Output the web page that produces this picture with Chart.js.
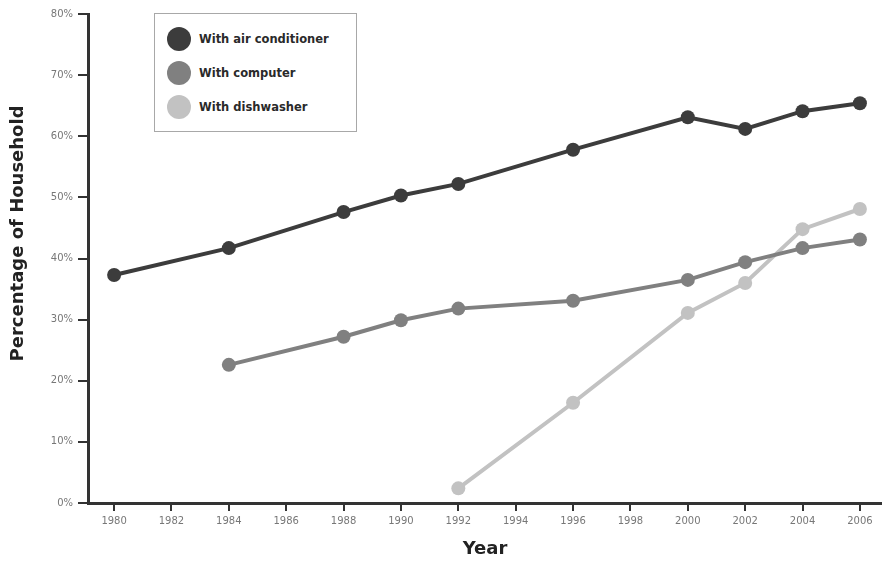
<!DOCTYPE html>
<html>
<head>
<meta charset="utf-8">
<script src="https://cdn.jsdelivr.net/npm/chart.js@4"></script>
<style>
  html, body { margin: 0; padding: 0; background: #fff; }
  #wrap { position: relative; width: 882px; height: 564px; }
  #legend { position: absolute; left: 154px; top: 13px; width: 203px; height: 119px;
    border: 1.5px solid #a8a8a8; background: #fff; box-sizing: border-box;
    font-family: "DejaVu Sans", sans-serif; font-weight: bold; font-size: 11.5px; color: #2a2a2a; }
  .row { position: absolute; left: 12px; display: flex; align-items: center; }
  .dot { width: 24px; height: 24px; border-radius: 50%; margin-right: 8px; }
</style>
</head>
<body>
<div id="wrap">
  <canvas id="c" width="882" height="564"></canvas>
  <div id="legend"></div>
</div>
<script>
const yearTicks = [1980,1982,1984,1986,1988,1990,1992,1994,1996,1998,2000,2002,2004,2006];
const yTicks = [0,10,20,30,40,50,60,70,80];
const seriesNames = ["With air conditioner", "With computer", "With dishwasher"];
const seriesColors = ["#3c3c3c", "#808080", "#c2c2c2"];
const airYears = [1980,1984,1988,1990,1992,1996,2000,2002,2004,2006];
const airValues = [37.3,41.7,47.6,50.3,52.2,57.8,63.1,61.2,64.1,65.4];
const compYears = [1984,1988,1990,1992,1996,2000,2002,2004,2006];
const compValues = [22.6,27.2,29.9,31.8,33.1,36.5,39.4,41.7,43.1];
const dishYears = [1992,1996,2000,2002,2004,2006];
const dishValues = [2.4,16.4,31.1,36.0,44.8,48.1];

function pts(xs, ys) { return xs.map((x, i) => ({ x: x, y: ys[i] })); }
const allData = [pts(airYears, airValues), pts(compYears, compValues), pts(dishYears, dishValues)];

const datasets = allData.map((d, i) => ({
  label: seriesNames[i],
  data: d,
  borderColor: seriesColors[i],
  backgroundColor: seriesColors[i],
  borderWidth: 4,
  pointRadius: 7,
  pointBorderWidth: 0,
  pointBackgroundColor: seriesColors[i],
  tension: 0
}));

// HTML legend
const leg = document.getElementById('legend');
seriesNames.forEach((n, i) => {
  const r = document.createElement('div');
  r.className = 'row';
  r.style.top = (13 + i * 34) + 'px';
  r.innerHTML = '<div class="dot" style="background:' + seriesColors[i] + '"></div><span>' + n + '</span>';
  leg.appendChild(r);
});

const axisColor = '#333';
const sp = '\u00a0'.repeat(8);
new Chart(document.getElementById('c'), {
  type: 'line',
  data: { datasets: datasets },
  options: {
    responsive: false,
    animation: false,
    layout: { autoPadding: false, padding: { top: 14, right: 0, left: 0, bottom: 0 } },
    plugins: { legend: { display: false }, tooltip: { enabled: false } },
    scales: {
      x: {
        type: 'linear',
        min: 1979.09,
        max: 2006.77,
        afterBuildTicks: s => { s.ticks = yearTicks.map(v => ({ value: v })); },
        afterFit: s => { s.height = 61; s.paddingLeft = 0; s.paddingRight = 0; },
        ticks: { color: '#777', font: { family: 'DejaVu Sans', size: 10 }, padding: 4, maxRotation: 0, autoSkip: false,
          callback: v => String(v) },
        grid: { display: true, drawOnChartArea: false, drawTicks: true, tickLength: 8, color: axisColor, lineWidth: 2 },
        border: { display: true, color: axisColor, width: 3 },
        title: { display: true, text: 'Year', color: '#222', font: { family: 'DejaVu Sans', size: 18, weight: 'bold' }, padding: { top: 1 } }
      },
      y: {
        type: 'linear',
        min: 0,
        max: 80,
        afterBuildTicks: s => { s.ticks = yTicks.map(v => ({ value: v })); },
        afterFit: s => { s.width = 88; },
        ticks: { color: '#777', font: { family: 'DejaVu Sans', size: 10 }, padding: 5,
          callback: v => v + '%' },
        grid: { display: true, drawOnChartArea: false, drawTicks: true, tickLength: 10, color: axisColor, lineWidth: 2 },
        border: { display: true, color: axisColor, width: 3 },
        title: { display: true, text: sp + 'Percentage of Household', color: '#222', font: { family: 'DejaVu Sans', size: 18, weight: 'bold' }, padding: { top: 8, bottom: 0 } }
      }
    }
  }
});
</script>
</body>
</html>
